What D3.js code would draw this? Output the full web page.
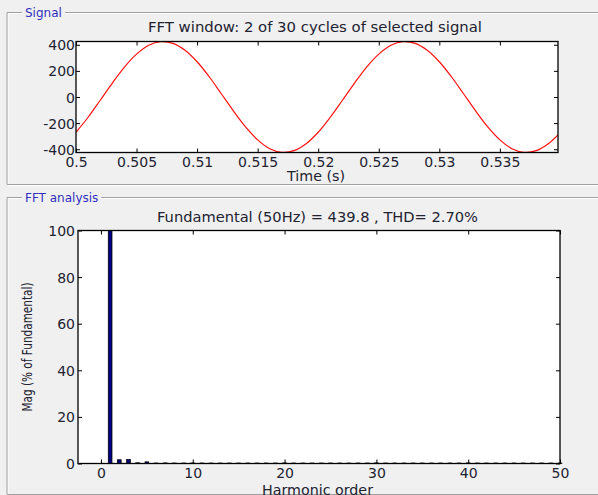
<!DOCTYPE html>
<html><head><meta charset="utf-8">
<script src="https://cdn.jsdelivr.net/npm/d3@7"></script>
<style>
html,body{margin:0;padding:0;background:#f0f0f0;}
svg{display:block;font-family:"DejaVu Sans",sans-serif;}
</style></head>
<body><svg id="c" width="598" height="495"></svg>
<script>
// ---- data ----
const signalTime = d3.range(0, 41).map(k => +(0.5 + k * 0.001).toFixed(3));
const signalValues = [-270,-155,-25,107,229,328,396,424,411,358,270,155,25,-107,-229,-328,-396,-424,-411,-358,
  -270,-155,-25,107,229,328,396,424,411,358,270,155,25,-107,-229,-328,-396,-424,-411,-358,-270];
const signalXTicks = [0.5,0.505,0.51,0.515,0.52,0.525,0.53,0.535];
const signalXTickLabels = ["0.5","0.505","0.51","0.515","0.52","0.525","0.53","0.535"];
const signalYTicks = [-400,-200,0,200,400];
const signalYTickLabels = ["-400","-200","0","200","400"];
const harmonicOrder = d3.range(0, 51);
const harmonicMag = [0,100,1.6,1.7,0.3,0.7,0.2,0.25,0.2,0.2,0.25,0.2,0.2,0.2,0.2,0.2,0.2,0.2,0.2,0.2,0.25,
  0.2,0.2,0.2,0.2,0.2,0.2,0.2,0.2,0.2,0.25,0.2,0.2,0.2,0.2,0.2,0.2,0.2,0.2,0.2,0.25,
  0.2,0.2,0.2,0.2,0.2,0.2,0.2,0.2,0.2,0.2];
const fftXTicks = [0,10,20,30,40,50];
const fftYTicks = [0,20,40,60,80,100];
const signalTitle = "FFT window: 2 of 30 cycles of selected signal";
const fftTitle = "Fundamental (50Hz) = 439.8 , THD= 2.70%";

const svg = d3.select("#c");
const txt = "#222230";

// group boxes
function groupBox(y0, y1, label) {
  const g = svg.append("g");
  g.append("path").attr("d", `M598,${y0+1}H8V${y1+1}H598`).attr("fill","none").attr("stroke","#ffffff");
  g.append("path").attr("d", `M598,${y0}H7V${y1}H598`).attr("fill","none").attr("stroke","#a0a0a0");
  const t = g.append("text").attr("x", 25).attr("y", y0 + 4).attr("font-size", 12)
    .attr("fill", "#3030c0").text(label);
  const bb = t.node().getBBox();
  g.insert("rect", "text").attr("x", bb.x - 3).attr("y", y0 - 2).attr("width", bb.width + 6).attr("height", 5).attr("fill", "#f0f0f0");
}
groupBox(12.5, 184.5, "Signal");
groupBox(197.5, 494.5, "FFT analysis");

function styleAxes(list) {
  list.forEach(a => {
    a.select(".domain").remove();
    a.selectAll("line").attr("stroke", "#000");
    a.selectAll("text").attr("fill", txt).attr("font-size", 14).attr("font-family", "DejaVu Sans");
  });
}
function label(x, y, s, len, size) {
  return svg.append("text").attr("x", x).attr("y", y).attr("text-anchor", "middle")
    .attr("font-size", size).attr("textLength", len).attr("lengthAdjust", "spacingAndGlyphs")
    .attr("fill", txt).text(s);
}

// ---- Signal plot ----
{
  const L = 76, R = 558, T = 41.5, B = 152.5;
  const x = d3.scaleLinear().domain([0.5, 0.5398]).range([L, R]);
  const y = d3.scaleLinear().domain([-425, 425]).range([B, T]);
  svg.append("rect").attr("x", L).attr("y", T).attr("width", R - L).attr("height", B - T).attr("fill", "#fff");
  svg.append("clipPath").attr("id", "clip1").append("rect").attr("x", L).attr("y", T - 1).attr("width", R - L).attr("height", B - T + 2);
  const line = d3.line().x((d, i) => x(signalTime[i])).y(d => y(d)).curve(d3.curveCatmullRom.alpha(0.5));
  svg.append("path").datum(signalValues).attr("clip-path", "url(#clip1)")
    .attr("d", line).attr("fill", "none").attr("stroke", "#ff1010").attr("stroke-width", 1.2);
  const ax = svg.append("g").attr("transform", `translate(0,${B})`)
    .call(d3.axisBottom(x).tickValues(signalXTicks).tickFormat((d, i) => signalXTickLabels[i]).tickSizeInner(-4).tickSizeOuter(0).tickPadding(5));
  const axt = svg.append("g").attr("transform", `translate(0,${T})`)
    .call(d3.axisTop(x).tickValues(signalXTicks).tickFormat("").tickSizeInner(-4).tickSizeOuter(0));
  const ay = svg.append("g").attr("transform", `translate(${L},0)`)
    .call(d3.axisLeft(y).tickValues(signalYTicks).tickFormat((d, i) => signalYTickLabels[i]).tickSizeInner(-4).tickSizeOuter(0).tickPadding(1));
  const ayr = svg.append("g").attr("transform", `translate(${R},0)`)
    .call(d3.axisRight(y).tickValues(signalYTicks).tickFormat("").tickSizeInner(-4).tickSizeOuter(0));
  styleAxes([ax, axt, ay, ayr]);
  ax.selectAll("text").attr("y", 14.5).attr("dy", "0");
  ay.selectAll("text").attr("dy", "0.36em");
  svg.append("rect").attr("x", L).attr("y", T).attr("width", R - L).attr("height", B - T)
    .attr("fill", "none").attr("stroke", "#000").attr("stroke-width", 1.3);
  label(315, 31.5, signalTitle, 334, 13.5);
  label(316, 181, "Time (s)", 58, 13.5);
}

// ---- FFT plot ----
{
  const L = 78, R = 560, T = 230.5, B = 463.5;
  const x = d3.scaleLinear().domain([-2.5, 50]).range([L, R]);
  const y = d3.scaleLinear().domain([0, 100]).range([B, T]);
  svg.append("rect").attr("x", L).attr("y", T).attr("width", R - L).attr("height", B - T).attr("fill", "#fff");
  const bw = x(0.4) - x(0);
  svg.append("g").selectAll("rect").data(harmonicMag).join("rect")
    .attr("x", (d, i) => x(harmonicOrder[i]) - bw / 2)
    .attr("width", bw)
    .attr("y", d => y(d))
    .attr("height", d => B - y(d))
    .attr("fill", "#000080").attr("stroke", "#000").attr("stroke-width", 0.8);
  const ax = svg.append("g").attr("transform", `translate(0,${B})`)
    .call(d3.axisBottom(x).tickValues(fftXTicks).tickSizeInner(-4).tickSizeOuter(0).tickPadding(5));
  const axt = svg.append("g").attr("transform", `translate(0,${T})`)
    .call(d3.axisTop(x).tickValues(fftXTicks).tickFormat("").tickSizeInner(-4).tickSizeOuter(0));
  const ay = svg.append("g").attr("transform", `translate(${L},0)`)
    .call(d3.axisLeft(y).tickValues(fftYTicks).tickSizeInner(-4).tickSizeOuter(0).tickPadding(3));
  const ayr = svg.append("g").attr("transform", `translate(${R},0)`)
    .call(d3.axisRight(y).tickValues(fftYTicks).tickFormat("").tickSizeInner(-4).tickSizeOuter(0));
  styleAxes([ax, axt, ay, ayr]);
  ax.selectAll("text").attr("y", 14.5).attr("dy", "0");
  ay.selectAll("text").attr("dy", "0.36em");
  svg.append("rect").attr("x", L).attr("y", T).attr("width", R - L).attr("height", B - T)
    .attr("fill", "none").attr("stroke", "#000").attr("stroke-width", 1.3);
  label(317.5, 222, fftTitle, 321, 13.5);
  label(317.5, 495, "Harmonic order", 111, 13.5);
  svg.append("text").attr("transform", `translate(32,${(T + B) / 2}) rotate(-90)`).attr("text-anchor", "middle")
    .attr("font-size", 13.5).attr("textLength", 129).attr("lengthAdjust", "spacingAndGlyphs")
    .attr("fill", txt).text("Mag (% of Fundamental)");
}
</script></body></html>
